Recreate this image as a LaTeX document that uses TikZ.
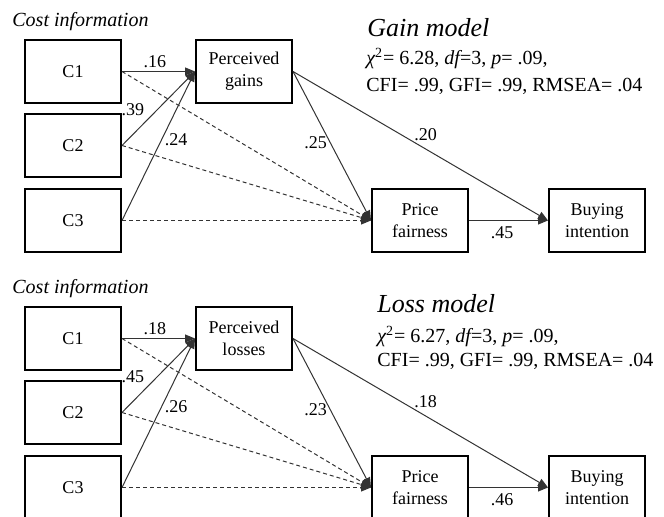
\documentclass[tikz,border=0pt]{standalone}
\usepackage{fontspec}
\setmainfont{Liberation Serif}
\usetikzlibrary{arrows.meta,positioning}
\definecolor{edge}{HTML}{333333}

\begin{document}
\begin{tikzpicture}[x=0.5pt,y=-0.5pt,font=\fontsize{9}{11}\selectfont,
   varbox/.style={draw,line width=1pt,minimum width=48pt,minimum height=31.5pt,align=center,inner sep=1pt},
   link/.style={-{Triangle[length=5pt,width=4pt]},draw=edge,line width=0.5pt},
   direct/.style={link,dash pattern=on 2pt off 1.5pt},
   coef/.style={font=\fontsize{9}{10}\selectfont,inner sep=1.5pt},
   heading/.style={anchor=base west,font=\fontsize{10}{12}\selectfont\itshape,inner sep=0pt},
   model/.style={anchor=base west,font=\fontsize{13}{15}\selectfont\itshape,inner sep=0pt},
   fitline/.style={anchor=base west,font=\fontsize{10}{12}\selectfont,inner sep=0pt}]
  \useasboundingbox (0,0) rectangle (664,517);
  % gain model
  \node[heading] (costg) at (12,27) {Cost information};
  \node[varbox] (c1g) at (73,71.5) {C1};
  \node[varbox,below=4.5pt of c1g] (c2g) {C2};
  \node[varbox,below=5pt of c2g] (c3g) {C3};
  \node[varbox,right=36.5pt of c1g] (pg) {Perceived\\gains};
  \node[varbox,right=124.5pt of c3g] (pfg) {Price\\fairness};
  \node[varbox,right=39.5pt of pfg] (big) {Buying\\intention};
  \node[model] (gainttl) at (367,37) {Gain model};
  \node[fitline] (gainfita) at (366,65) {{\itshape χ}\textsuperscript{2}= 6.28, {\itshape df}=3, {\itshape p}= .09,};
  \node[fitline] (gainfitb) at (366,92) {CFI= .99, GFI= .99, RMSEA= .04};
  \draw[direct] (c1g.east) -- (pfg.west);
  \draw[direct] (c2g.east) -- (pfg.west);
  \draw[direct] (c3g.east) -- (pfg.west);
  \draw[link] (c1g.east) -- node[coef,above,pos=.45] (g16) {.16} (pg.west);
  \draw[link] (c2g.east) -- node[coef,above left,pos=.35] (g39) {.39} (pg.west);
  \draw[link] (c3g.east) -- node[coef,right,pos=.54] (g24) {.24} (pg.west);
  \draw[link] (pg.east) -- node[coef,left,pos=.48] (g25) {.25} (pfg.west);
  \draw[link] (pg.east) -- node[coef,above=2.5pt,pos=.52] (g20) {.20} (big.west);
  \draw[link] (pfg.east) -- node[coef,below=1.5pt,pos=.42] (g45) {.45} (big.west);
  % loss model
  \begin{scope}[yshift=-133.5pt]
    \node[heading] (costl) at (12,27) {Cost information};
    \node[varbox] (c1l) at (73,71.5) {C1};
    \node[varbox,below=4.5pt of c1l] (c2l) {C2};
    \node[varbox,below=5pt of c2l] (c3l) {C3};
    \node[varbox,right=36.5pt of c1l] (pl) {Perceived\\losses};
    \node[varbox,right=124.5pt of c3l] (pfl) {Price\\fairness};
    \node[varbox,right=39.5pt of pfl] (bil) {Buying\\intention};
    \draw[direct] (c1l.east) -- (pfl.west);
    \draw[direct] (c2l.east) -- (pfl.west);
    \draw[direct] (c3l.east) -- (pfl.west);
    \draw[link] (c1l.east) -- node[coef,above,pos=.45] (l18) {.18} (pl.west);
    \draw[link] (c2l.east) -- node[coef,above left,pos=.35] (l45) {.45} (pl.west);
    \draw[link] (c3l.east) -- node[coef,right,pos=.54] (l26) {.26} (pl.west);
    \draw[link] (pl.east) -- node[coef,left,pos=.48] (l23) {.23} (pfl.west);
    \draw[link] (pl.east) -- node[coef,above=2.5pt,pos=.52] (l18b) {.18} (bil.west);
    \draw[link] (pfl.east) -- node[coef,below=1.5pt,pos=.42] (l46) {.46} (bil.west);
  \end{scope}
  \node[model] (lossttl) at (377,313) {Loss model};
  \node[fitline] (lossfita) at (377,343) {{\itshape χ}\textsuperscript{2}= 6.27, {\itshape df}=3, {\itshape p}= .09,};
  \node[fitline] (lossfitb) at (377,367) {CFI= .99, GFI= .99, RMSEA= .04};
\end{tikzpicture}
\end{document}
